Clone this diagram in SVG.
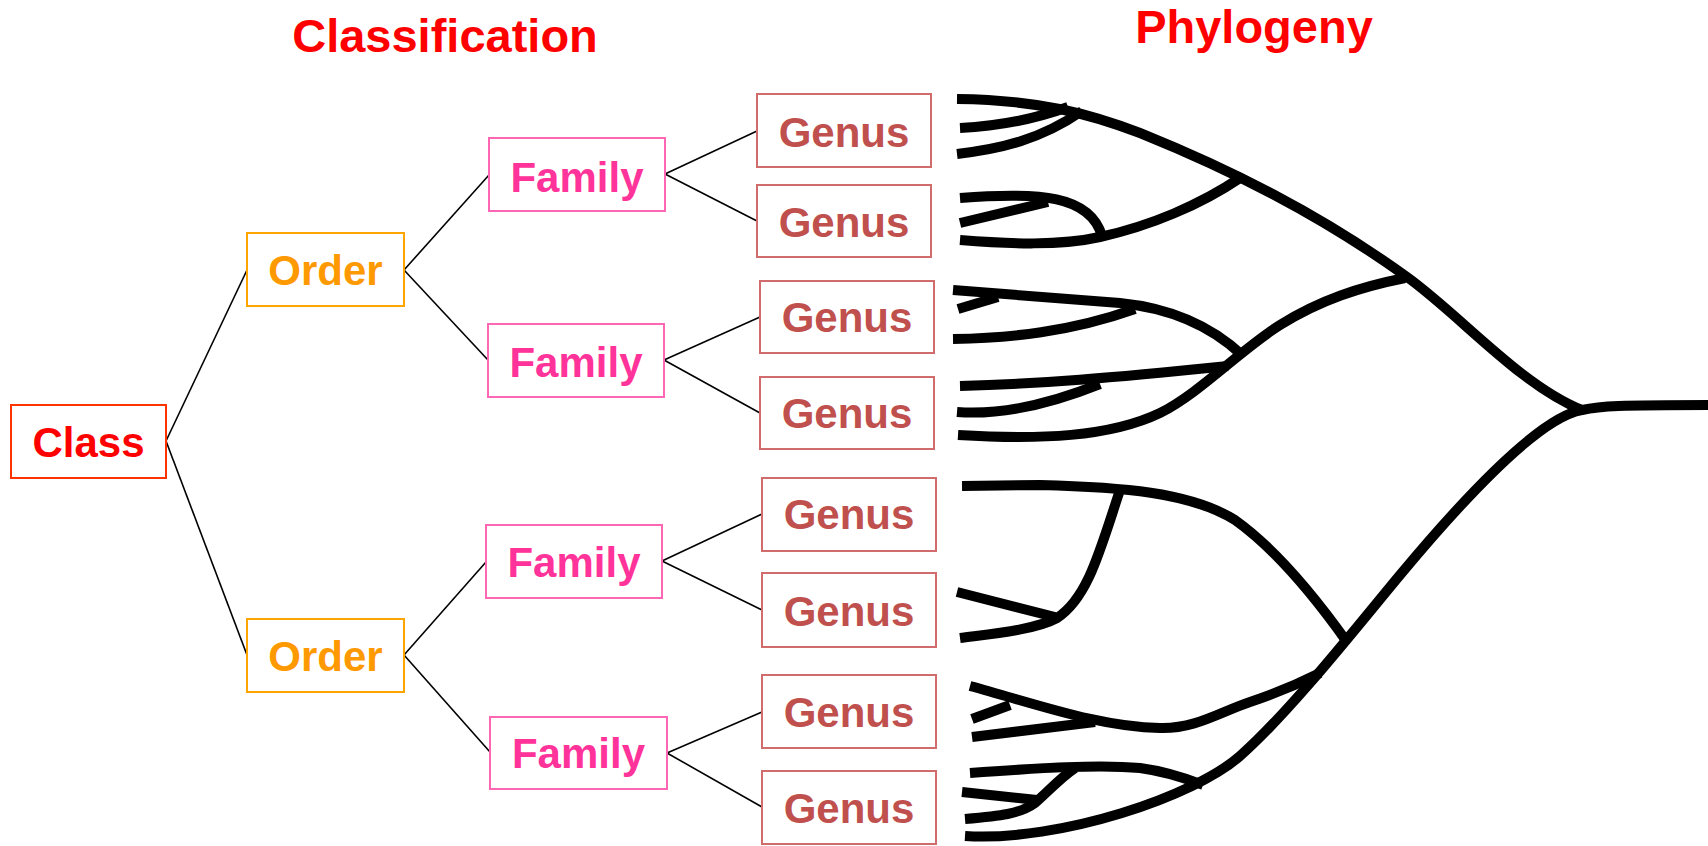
<svg xmlns="http://www.w3.org/2000/svg" width="1708" height="846" viewBox="0 0 1708 846">
<style>
text{font-family:"Liberation Sans",Arial,sans-serif;font-weight:bold;text-anchor:middle}
.title{font-size:47px;fill:#FF0000}
.lbl{font-size:42px}
.box{fill:#FFFFFF;stroke-width:2}
.cls rect{stroke:#FF3300}.cls text{fill:#FF0000}
.ord rect{stroke:#FFA500}.ord text{fill:#FF9900}
.fam rect{stroke:#FF66B3}.fam text{fill:#FF3399}
.gen rect{stroke:#D06C6C}.gen text{fill:#C0504D}
.conn line{stroke:#000000;stroke-width:1.6}
.tree path{fill:none;stroke:#000000;stroke-width:10;stroke-linecap:butt;stroke-linejoin:round}
</style>
<rect width="1708" height="846" fill="#FFFFFF"/>
<text class="title" x="445" y="52">Classification</text>
<text class="title" x="1254" y="43">Phylogeny</text>

<g id="connectors" class="conn">
<line x1="166" y1="441" x2="247" y2="270"/>
<line x1="166" y1="441" x2="247" y2="655"/>
<line x1="404" y1="270" x2="489" y2="175"/>
<line x1="404" y1="270" x2="488" y2="360"/>
<line x1="404" y1="655" x2="486" y2="562"/>
<line x1="404" y1="655" x2="490" y2="752"/>
<line x1="665" y1="174" x2="757" y2="131"/>
<line x1="665" y1="174" x2="757" y2="221"/>
<line x1="664" y1="360" x2="760" y2="317"/>
<line x1="664" y1="360" x2="760" y2="413"/>
<line x1="662" y1="561" x2="762" y2="514"/>
<line x1="662" y1="561" x2="762" y2="610"/>
<line x1="667" y1="753" x2="762" y2="712"/>
<line x1="667" y1="753" x2="762" y2="807"/>
</g>

<g id="class" class="cls"><rect class="box" x="11" y="405" width="155" height="73"/><text class="lbl" x="88.5" y="457">Class</text></g>
<g id="order1" class="ord"><rect class="box" x="247" y="233" width="157" height="73"/><text class="lbl" x="325.5" y="285">Order</text></g>
<g id="order2" class="ord"><rect class="box" x="247" y="619" width="157" height="73"/><text class="lbl" x="325.5" y="671">Order</text></g>
<g id="family1" class="fam"><rect class="box" x="489" y="138" width="176" height="73"/><text class="lbl" x="577" y="192">Family</text></g>
<g id="family2" class="fam"><rect class="box" x="488" y="324" width="176" height="73"/><text class="lbl" x="576" y="377">Family</text></g>
<g id="family3" class="fam"><rect class="box" x="486" y="525" width="176" height="73"/><text class="lbl" x="574" y="577">Family</text></g>
<g id="family4" class="fam"><rect class="box" x="490" y="717" width="177" height="72"/><text class="lbl" x="578.5" y="768">Family</text></g>
<g id="genus1" class="gen"><rect class="box" x="757" y="94" width="174" height="73"/><text class="lbl" x="844" y="147">Genus</text></g>
<g id="genus2" class="gen"><rect class="box" x="757" y="185" width="174" height="72"/><text class="lbl" x="844" y="237">Genus</text></g>
<g id="genus3" class="gen"><rect class="box" x="760" y="281" width="174" height="72"/><text class="lbl" x="847" y="332">Genus</text></g>
<g id="genus4" class="gen"><rect class="box" x="760" y="377" width="174" height="72"/><text class="lbl" x="847" y="428">Genus</text></g>
<g id="genus5" class="gen"><rect class="box" x="762" y="478" width="174" height="73"/><text class="lbl" x="849" y="529">Genus</text></g>
<g id="genus6" class="gen"><rect class="box" x="762" y="573" width="174" height="74"/><text class="lbl" x="849" y="626">Genus</text></g>
<g id="genus7" class="gen"><rect class="box" x="762" y="675" width="174" height="73"/><text class="lbl" x="849" y="727">Genus</text></g>
<g id="genus8" class="gen"><rect class="box" x="762" y="771" width="174" height="73"/><text class="lbl" x="849" y="823">Genus</text></g>

<g id="phylogeny" class="tree">
<path d="M957,99 C1040,100 1090,114 1140,133 C1229,169 1318,213 1407,277 C1460,315 1520,385 1582,410 C1600,406 1620,405 1708,405"/>
<path d="M960,128 C1000,126 1035,119 1068,107"/>
<path d="M957,154 C1000,149 1040,140 1082,111"/>
<path d="M960,198 C1040,192 1090,195 1102,236"/>
<path d="M960,223 L1048,202"/>
<path d="M960,240 C1010,244 1060,246 1100,237 C1150,226 1200,205 1240,178"/>
<path d="M953,290 L1120,303 C1170,308 1210,325 1242,355" stroke-linecap="round"/>
<path d="M958,309 L998,297"/>
<path d="M953,339 C1010,338 1070,332 1135,309"/>
<path d="M960,386 C1040,384 1110,378 1228,366"/>
<path d="M957,412 C995,415 1040,408 1100,384"/>
<path d="M958,435 C1040,440 1110,437 1160,413 C1200,393 1240,350 1280,325 C1320,300 1360,287 1405,278"/>
<path d="M1582,410 C1535,418 1450,515 1400,575 C1360,623 1290,712 1240,756 C1195,796 1060,842 965,836"/>
<path d="M962,486 L1040,485 C1120,487 1190,492 1235,520 C1270,545 1310,590 1347,642"/>
<path d="M1120,490 C1100,550 1088,598 1057,618 C1035,630 990,634 960,638"/>
<path d="M957,592 L1055,617"/>
<path d="M970,686 C1040,705 1100,727 1160,728 C1195,729 1220,712 1250,702 C1280,692 1300,683 1320,673"/>
<path d="M972,719 L1010,705"/>
<path d="M972,737 L1095,722"/>
<path d="M970,773 C1040,768 1100,764 1140,768 C1170,772 1190,780 1203,785"/>
<path d="M962,792 L1037,800"/>
<path d="M965,819 C1000,816 1020,814 1035,803 C1050,790 1060,778 1075,768"/>
</g>
</svg>
